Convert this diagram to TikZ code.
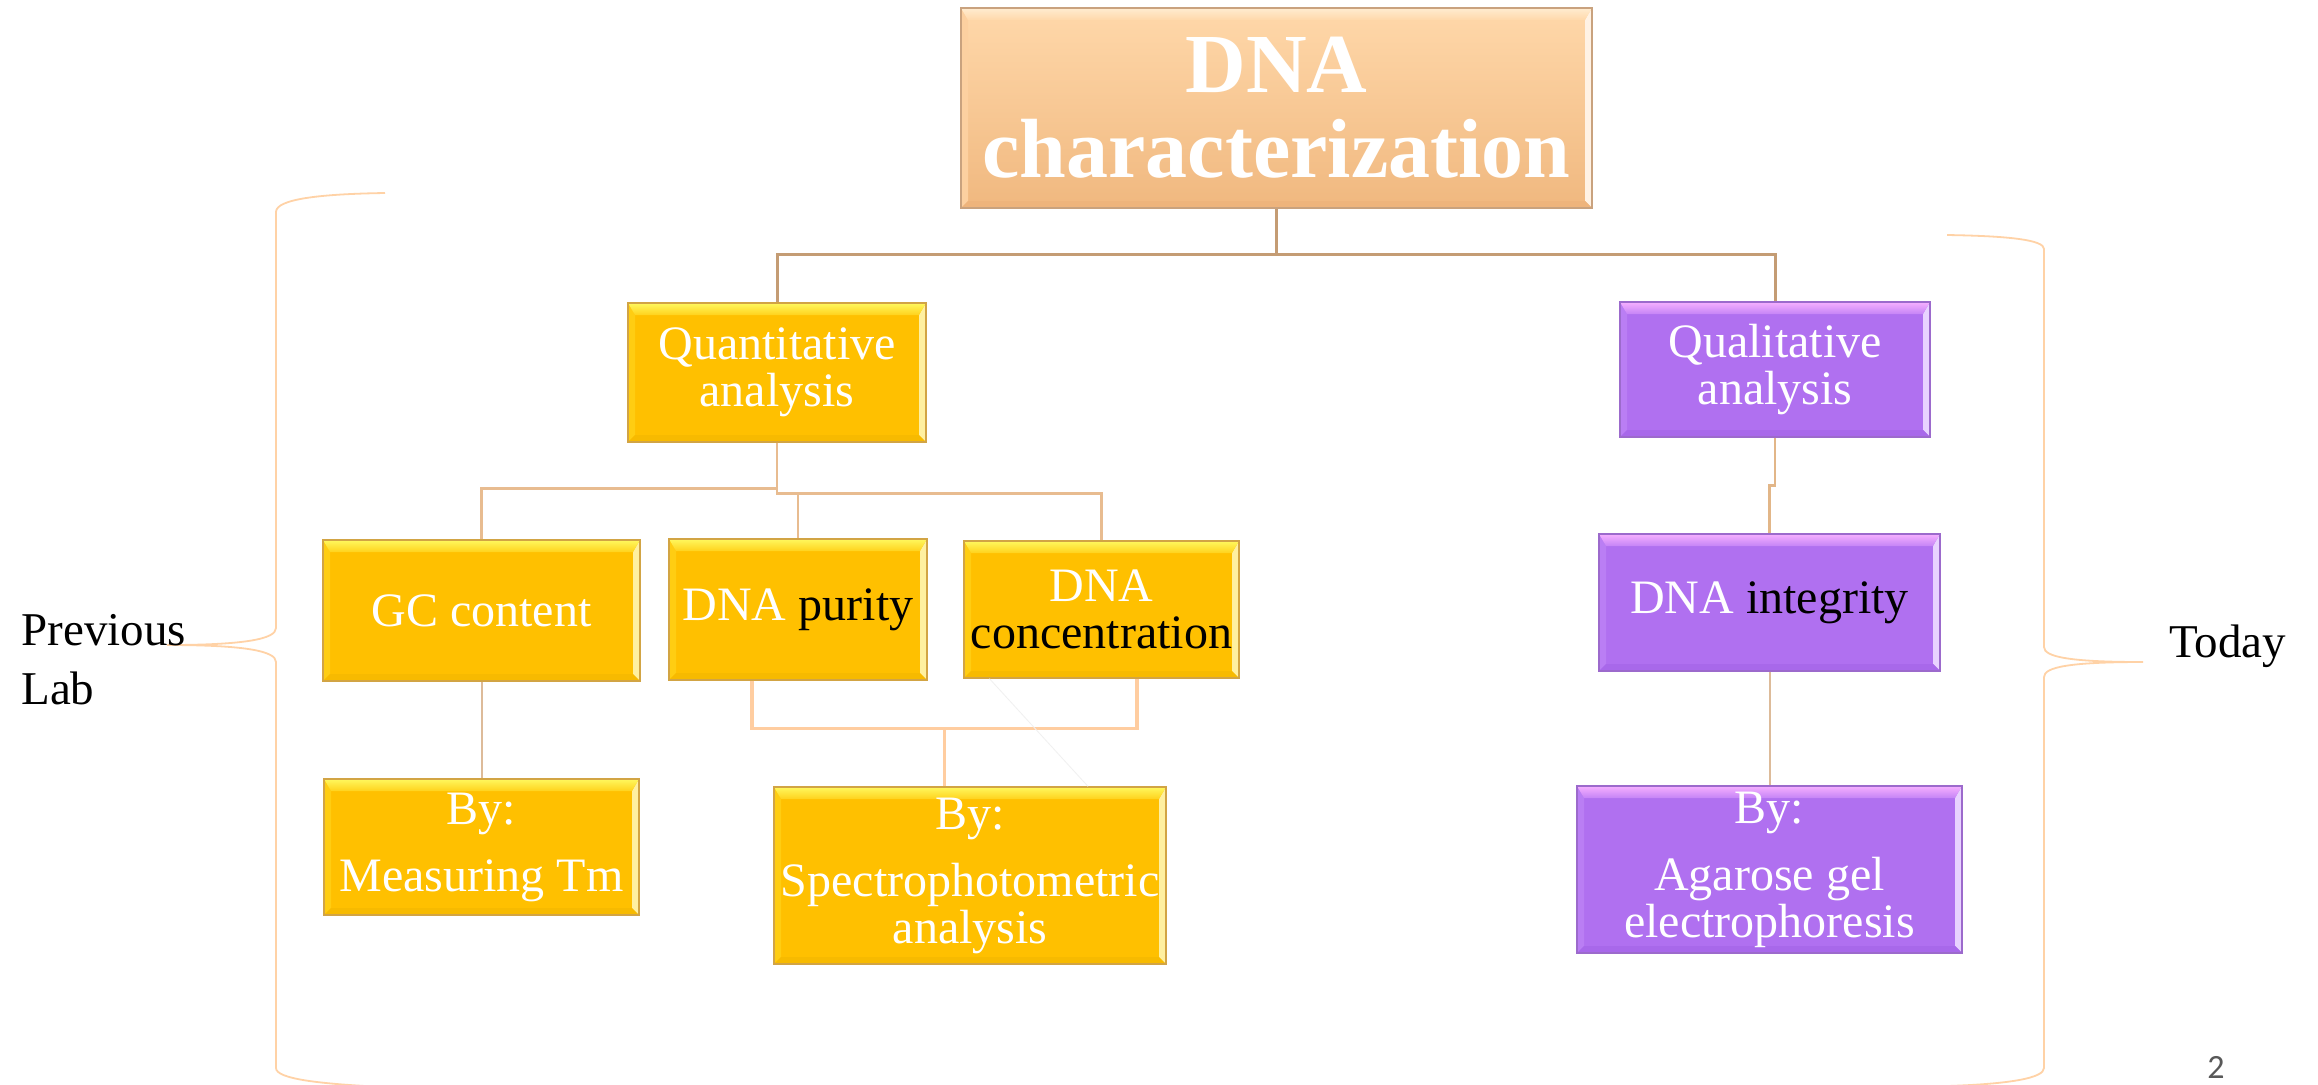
\documentclass[tikz,border=0pt]{standalone}
\usepackage{fontspec}
\setmainfont{Liberation Serif}
\newfontfamily\pgnumfont{Carlito}
\usetikzlibrary{calc}

\definecolor{ygold}{HTML}{FFC000}
\definecolor{ytopA}{HTML}{FFF85E}
\definecolor{ytopB}{HTML}{FFD21C}
\definecolor{yleft}{HTML}{FFCD12}
\definecolor{yright}{HTML}{FFF0A0}
\definecolor{ybot}{HTML}{F7BA00}
\definecolor{yedge}{HTML}{D2A444}
\definecolor{pmain}{HTML}{B070F0}
\definecolor{ptopA}{HTML}{F6B0FF}
\definecolor{ptopB}{HTML}{C584F6}
\definecolor{pleft}{HTML}{BA7EF4}
\definecolor{pright}{HTML}{E8D2FF}
\definecolor{pbot}{HTML}{A868EA}
\definecolor{pedge}{HTML}{9C6ACC}
\definecolor{ttop}{HTML}{FFD8AA}
\definecolor{tbot}{HTML}{F0B87F}
\definecolor{ttopA}{HTML}{FFECD0}
\definecolor{ttopB}{HTML}{FFD8AA}
\definecolor{tleft}{HTML}{FCD0A0}
\definecolor{tright}{HTML}{FFF2E4}
\definecolor{tbotb}{HTML}{EEB47C}
\definecolor{tedge}{HTML}{C9A27E}
\definecolor{bracecol}{HTML}{FFD2A6}
\definecolor{lnAcol}{HTML}{C49C74}
\definecolor{lnBcol}{HTML}{E8BC90}
\definecolor{lnCcol}{HTML}{DDBB99}
\definecolor{lnDcol}{HTML}{FFCDA0}
\definecolor{lnEcol}{HTML}{E2B688}
\definecolor{pgcol}{HTML}{595959}

\tikzset{
  bevelfx/.style n args={5}{path picture={
    \fill[#3] (path picture bounding box.north west)
      -- ([xshift=3.5pt,yshift=-6pt]path picture bounding box.north west)
      -- ([xshift=3.5pt,yshift=3.5pt]path picture bounding box.south west)
      -- (path picture bounding box.south west) -- cycle;
    \fill[#4] (path picture bounding box.north east)
      -- ([xshift=-3.5pt,yshift=-6pt]path picture bounding box.north east)
      -- ([xshift=-3.5pt,yshift=3.5pt]path picture bounding box.south east)
      -- (path picture bounding box.south east) -- cycle;
    \fill[#5] (path picture bounding box.south west)
      -- ([xshift=3.5pt,yshift=3.5pt]path picture bounding box.south west)
      -- ([xshift=-3.5pt,yshift=3.5pt]path picture bounding box.south east)
      -- (path picture bounding box.south east) -- cycle;
    \shade[top color=#1,bottom color=#2] (path picture bounding box.north west)
      -- (path picture bounding box.north east)
      -- ([xshift=-3.5pt,yshift=-6pt]path picture bounding box.north east)
      -- ([xshift=3.5pt,yshift=-6pt]path picture bounding box.north west) -- cycle;
  }},
  boxtext/.style={inner sep=0pt, align=center, text=white,
    font=\fontsize{24}{23.5}\selectfont},
  ybox/.style={boxtext, fill=ygold, draw=yedge, line width=0.6pt,
    bevelfx={ytopA}{ytopB}{yleft}{yright}{ybot}},
  pbox/.style={boxtext, fill=pmain, draw=pedge, line width=0.6pt,
    bevelfx={ptopA}{ptopB}{pleft}{pright}{pbot}},
  tbox/.style={inner sep=0pt, align=center, text=white,
    font=\fontsize{42}{42.5}\selectfont\bfseries,
    top color=ttop, bottom color=tbot, draw=tedge, line width=0.6pt,
    bevelfx={ttopA}{ttopB}{tleft}{tright}{tbotb}},
  lnA/.style={draw=lnAcol, line width=1.5pt},
  lnB/.style={draw=lnBcol, line width=1.3pt},
  lnC/.style={draw=lnCcol, line width=1pt},
  lnD/.style={draw=lnDcol, line width=1.6pt},
  lnE/.style={draw=lnEcol, line width=1.2pt},
  faintln/.style={draw=black!6, line width=0.4pt},
  bracestyle/.style={draw=bracecol, line width=0.9pt},
  sidetext/.style={inner sep=0pt, text=black, font=\fontsize{23.5}{29.5}\selectfont}
}

\begin{document}
\begin{tikzpicture}[x=0.5pt,y=-0.5pt]
\useasboundingbox (0,0) rectangle (2318,1084);
\fill[white] (0,0) rectangle (2318,1084);

% boxes
\node[tbox, minimum width=315.5pt, minimum height=100pt] (title) at (1276.5,108) {DNA\\characterization};
\node[ybox, minimum width=149pt, minimum height=69.5pt] (quant) at (777,372.5) {Quantitative\\analysis};
\node[pbox, minimum width=155pt, minimum height=67.5pt] (qual) at (1775,369.5) {Qualitative\\analysis};
\node[ybox, minimum width=158.5pt, minimum height=70.5pt] (gc) at (481.5,610.5) {GC content};
\node[ybox, minimum width=129pt, minimum height=70.5pt] (purity) at (798,609.5) {DNA \textcolor{black}{purity}};
\node[ybox, minimum width=137.5pt, minimum height=68.5pt] (conc) at (1101.5,609.5) {DNA\\\textcolor{black}{concentration}};
\node[ybox, minimum width=157.5pt, minimum height=68pt] (bytm) at (481.5,847) {By:\\[10pt]Measuring Tm};
\node[ybox, minimum width=196pt, minimum height=88.5pt] (spectro) at (970,875.5) {By:\\[10pt]Spectrophotometric\\analysis};
\node[pbox, minimum width=170.5pt, minimum height=68.5pt] (integ) at (1769.5,602.5) {DNA \textcolor{black}{integrity}};
\node[pbox, minimum width=192.5pt, minimum height=83.5pt] (agar) at (1769.5,869.5) {By:\\[10pt]Agarose gel\\electrophoresis};

% connectors
\draw[lnA] (title.south) -- ++(0,46) coordinate (tj);
\draw[lnA] (tj) -| (quant.north);
\draw[lnA] (tj) -| (qual.north);

\draw[lnB] (quant.south) -- ++(0,46) -| (gc.north);
\draw[lnB] (quant.south) -- ++(0,51) -| (purity.north);
\draw[lnB] (quant.south) -- ++(0,51) -| (conc.north);

\draw[lnC] (gc.south) -- (bytm.north);

\coordinate (bl) at ([xshift=-23pt,yshift=-24pt]purity.south);
\coordinate (brt) at ([xshift=17.75pt]conc.south);
\draw[lnD] ([xshift=-23pt]purity.south) -- (bl) -| (brt);
\coordinate (bm) at ($(bl)!0.5!(bl -| brt)$);
\draw[lnD] (bm) -- (bm |- spectro.north);
\draw[faintln] ([xshift=13pt]conc.south west) -- ([xshift=59pt]spectro.north);

\draw[lnE] (qual.south) -- ++(0,48) -| (integ.north);
\draw[lnC] (integ.south) -- (agar.north);

% braces
\draw[bracestyle] (385,193) .. controls (320,194) and (276,199) .. (276,212)
  -- (276,628) .. controls (276,639) and (245,645) .. (167,645)
  .. controls (245,645) and (276,651) .. (276,662)
  -- (276,1068) .. controls (276,1079) and (320,1084) .. (385,1087);
\draw[bracestyle] (1947,235) .. controls (2010,236) and (2044,240) .. (2044,249)
  -- (2044,647) .. controls (2044,657) and (2070,662) .. (2143,662)
  .. controls (2070,662) and (2044,667) .. (2044,677)
  -- (2044,1068) .. controls (2044,1078) and (2010,1084) .. (1947,1086);

% side texts
\node[sidetext, anchor=north west, align=left] (prevlab) at (21,614) {Previous\\Lab};
\node[sidetext, anchor=base west] (today) at (2169,657) {Today};
\node[inner sep=0pt, anchor=base west, text=pgcol, font=\pgnumfont\fontsize{17}{17}\selectfont] (pgnum) at (2207,1078) {2};
\end{tikzpicture}
\end{document}
